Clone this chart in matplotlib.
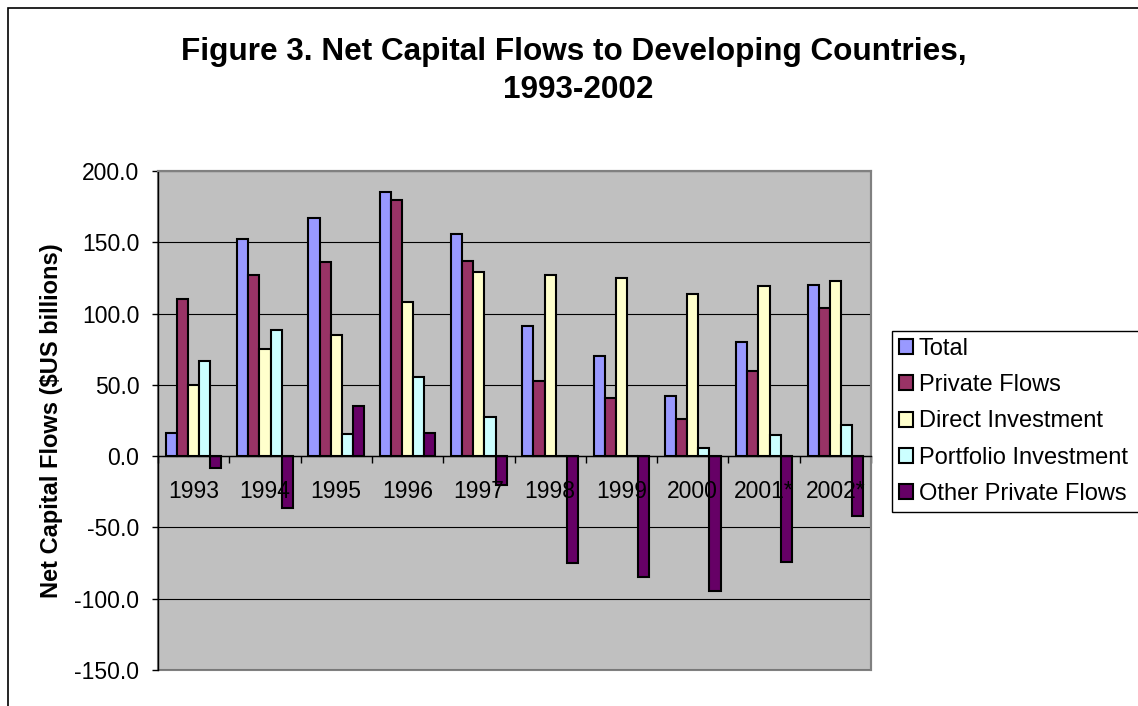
import numpy as np
import matplotlib
matplotlib.use("Agg")
import matplotlib.pyplot as plt
from matplotlib.patches import Rectangle
from matplotlib.ticker import FormatStrFormatter

plt.rcParams["font.family"] = ["Liberation Sans", "DejaVu Sans"]

# Net capital flows, $US billions
years = ["1993", "1994", "1995", "1996", "1997", "1998", "1999", "2000", "2001*", "2002*"]
total = [16, 152, 167, 185, 156, 91, 70, 42, 80, 120]
private_flows = [110, 127, 136, 180, 137, 53, 41, 26, 60, 104]
direct_inv = [50, 75, 85, 108, 129, 127, 125, 114, 119, 123]
portfolio_inv = [67, 88.5, 15.5, 55.5, 27.5, 0, 0, 6, 14.5, 22]
other_private = [-8, -36.5, 35, 16, -20.5, -75, -85, -94.5, -74, -42]

series_names = ["Total", "Private Flows", "Direct Investment",
                "Portfolio Investment", "Other Private Flows"]
series_colors = ["#9999FF", "#993366", "#FFFFCC", "#CCFFFF", "#660066"]
y_ticks = [-150, -100, -50, 0, 50, 100, 150, 200]
title_lines = ["Figure 3. Net Capital Flows to Developing Countries,", "1993-2002"]

W, H = 1138, 706
fig = plt.figure(figsize=(W / 100, H / 100), dpi=100)
ax = fig.add_axes([158 / W, 1 - 670 / H, (871 - 158) / W, (670 - 171) / H])

# outer chart border (only top/left visible in the crop)
fig.add_artist(Rectangle((8 / W, -0.1), 1.2, 1 - 8 / H + 0.1, transform=fig.transFigure,
                         fill=False, edgecolor="black", linewidth=1.2))

x = np.arange(len(years))
bw = 0.156
all_series = [total, private_flows, direct_inv, portfolio_inv, other_private]
for i, (vals, name, col) in enumerate(zip(all_series, series_names, series_colors)):
    ax.bar(x + (i - 2) * bw, vals, width=bw, color=col, edgecolor="black",
           linewidth=1.5, label=name, zorder=1)

ax.set_xlim(-0.5, len(years) - 0.5)
ax.set_ylim(-150, 200)

# plot area: grey fill with grey frame, black axes lines
ax.patch.set_facecolor("#C0C0C0")
ax.patch.set_edgecolor("#808080")
ax.patch.set_linewidth(1.5)
ax.hlines(y_ticks, -0.5, len(years) - 0.5, colors="black", linewidth=0.8, zorder=0.6)

for s in ["top", "right"]:
    ax.spines[s].set_color("#808080")
    ax.spines[s].set_linewidth(1.5)
ax.spines["left"].set_color("black")
ax.spines["left"].set_linewidth(1.0)
ax.spines["bottom"].set_position(("data", 0))
ax.spines["bottom"].set_color("black")
ax.spines["bottom"].set_linewidth(1.0)

ax.set_yticks(y_ticks)
ax.yaxis.set_major_formatter(FormatStrFormatter("%.1f"))
ax.tick_params(axis="y", direction="out", length=4.5, width=1, pad=9, labelsize=16.5)

ax.set_xticks(np.arange(-0.5, len(years), 1.0))
ax.set_xticklabels([])
ax.tick_params(axis="x", which="major", direction="out", length=4.8, width=1)
ax.set_xticks(x, minor=True)
ax.set_xticklabels(years, minor=True)
ax.tick_params(axis="x", which="minor", length=0, pad=17, labelsize=16.5)

ax.set_ylabel("Net Capital Flows ($US billions)", fontsize=17, fontweight="bold")
ax.yaxis.set_label_coords(-0.133, 0.5)

# two-line title, baselines taken from the original
fig.text(574 / W, 1 - 60 / H, title_lines[0], ha="center", va="baseline",
         fontsize=22.7, fontweight="bold")
fig.text(578 / W, 1 - 98 / H, title_lines[1], ha="center", va="baseline",
         fontsize=22.7, fontweight="bold")

# legend box runs past the right edge of the picture, as in the original
leg = ax.legend(loc="upper left", bbox_to_anchor=(892 / W, 1 - 510 / H, 270 / W, (510 - 331) / H),
                bbox_transform=fig.transFigure, mode="expand", borderaxespad=0, fontsize=17,
                handlelength=0.6, handleheight=0.6, handletextpad=0.25,
                borderpad=0.28, labelspacing=0.61, fancybox=False, framealpha=1)
leg.get_frame().set_edgecolor("black")
leg.get_frame().set_linewidth(1.0)

fig.savefig("out.png", dpi=100)
